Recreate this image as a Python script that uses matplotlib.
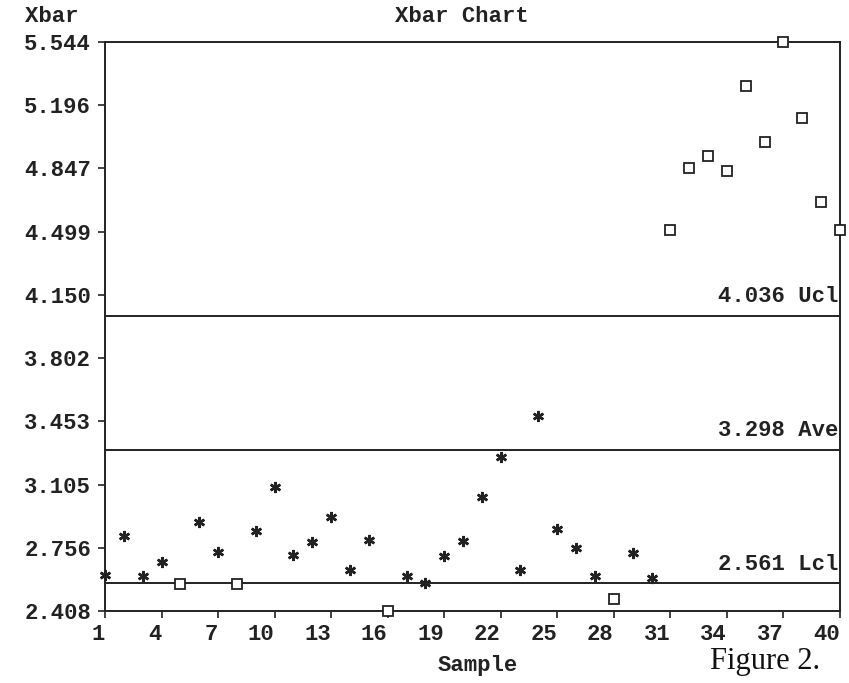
import matplotlib
matplotlib.use("Agg")
import matplotlib.pyplot as plt

# sample means per subgroup
samples = list(range(1, 41))
xbar = [2.607, 2.823, 2.600, 2.676, 2.558, 2.899, 2.732, 2.557, 2.849, 3.090,
        2.719, 2.786, 2.924, 2.635, 2.799, 2.408, 2.602, 2.564, 2.711, 2.793,
        3.034, 3.258, 2.632, 3.482, 2.861, 2.753, 2.600, 2.474, 2.730, 2.590,
        4.509, 4.848, 4.918, 4.834, 5.302, 4.993, 5.544, 5.127, 4.661, 4.510]

# control limits
ucl = 4.036
ave = 3.298
lcl = 2.561

xticks = [1, 4, 7, 10, 13, 16, 19, 22, 25, 28, 31, 34, 37, 40]
yticks = [2.408, 2.756, 3.105, 3.453, 3.802, 4.150, 4.499, 4.847, 5.196, 5.544]
ytick_labels = ["2.408", "2.756", "3.105", "3.453", "3.802",
                "4.150", "4.499", "4.847", "5.196", "5.544"]

INK = "#222222"
FS = 16
MONO = dict(family=["Liberation Mono", "DejaVu Sans Mono"], weight="bold", color=INK)

fig = plt.figure(figsize=(8.49, 6.83), dpi=100)
ax = fig.add_axes([0.1237, 0.1054, 0.9894 - 0.1237, 0.9385 - 0.1054])

# limit lines
for val in (ucl, ave, lcl):
    ax.axhline(val, color=INK, lw=1.4)

ax.text(39.9, ucl + 0.045, f"{ucl:.3f} Ucl", ha="right", va="bottom", fontsize=FS, **MONO)
ax.text(39.9, ave + 0.045, f"{ave:.3f} Ave", ha="right", va="bottom", fontsize=FS, **MONO)
ax.text(39.9, lcl + 0.045, f"{lcl:.3f} Lcl", ha="right", va="bottom", fontsize=FS, **MONO)

# in-control points as asterisks, out-of-control ones as open squares
inside_x = [s for s, v in zip(samples, xbar) if lcl <= v <= ucl]
inside_y = [v for v in xbar if lcl <= v <= ucl]
out_x = [s for s, v in zip(samples, xbar) if v < lcl or v > ucl]
out_y = [v for v in xbar if v < lcl or v > ucl]

ax.plot(inside_x, inside_y, ls="none", marker=(6, 2, 0), ms=8, mew=1.8,
        color=INK, clip_on=False, zorder=3)
ax.plot(out_x, out_y, ls="none", marker="s", ms=7, mew=1.3,
        mfc="white", mec=INK, clip_on=False, zorder=3)

ax.set_xlim(1, 40)
ax.set_ylim(2.408, 5.544)
ax.set_xticks(xticks)
# sample numbers end at their tick
ax.set_xticklabels([str(t) for t in xticks], fontsize=FS, ha="right", **MONO)
ax.set_yticks(yticks)
ax.set_yticklabels(ytick_labels, fontsize=FS, **MONO)
ax.tick_params(axis="x", direction="out", length=5, width=1.2, pad=4, colors=INK)
ax.tick_params(axis="y", direction="out", length=5, width=1.2, pad=5, colors=INK)
for sp in ax.spines.values():
    sp.set_color(INK)
    sp.set_linewidth(1.4)

fig.text(52 / 849, 1 - 17 / 683, "Xbar", ha="center", va="center", fontsize=FS, **MONO)
fig.text(462 / 849, 1 - 16 / 683, "Xbar Chart", ha="center", va="center", fontsize=FS, **MONO)
fig.text(478 / 849, 1 - 665 / 683, "Sample", ha="center", va="center", fontsize=FS, **MONO)
fig.text(765 / 849, 1 - 662 / 683, "Figure 2.", ha="center", va="center",
         fontsize=22, family="Liberation Serif", color="#111111")

fig.savefig("out.png", dpi=100)
